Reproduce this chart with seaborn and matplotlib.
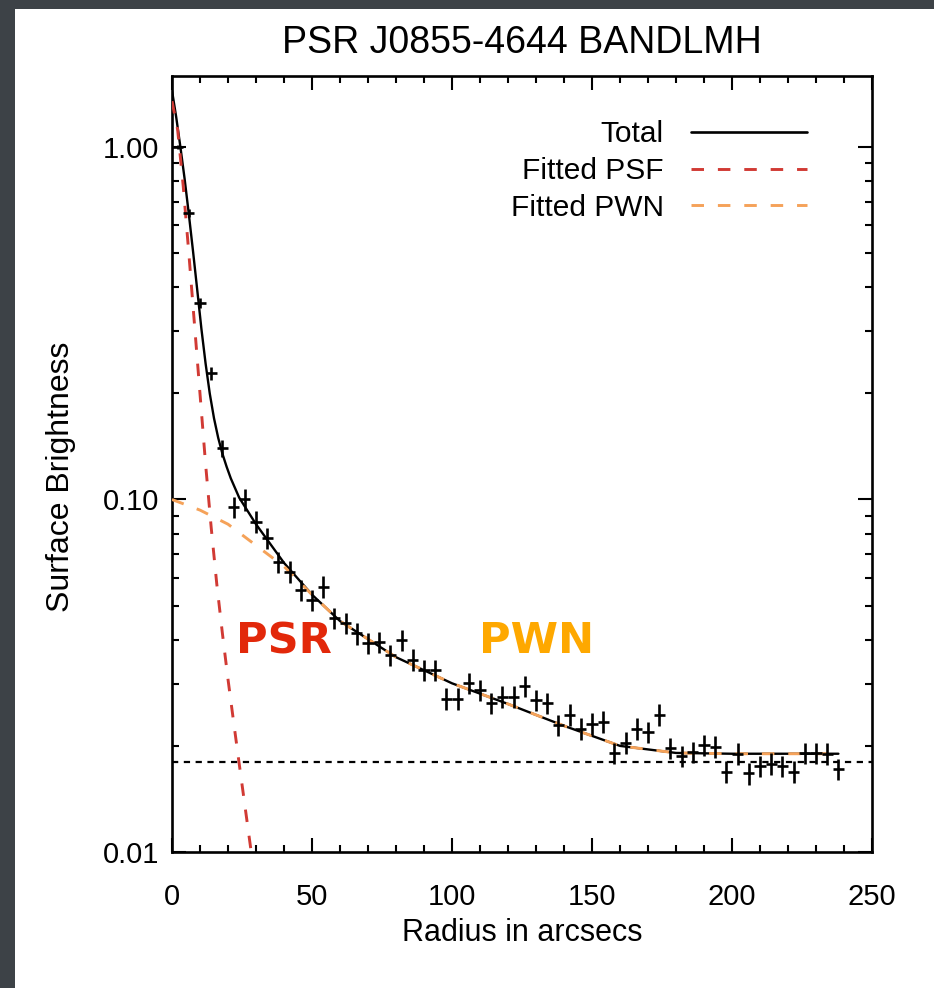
import numpy as np
import pandas as pd
import matplotlib
matplotlib.use("Agg")
import matplotlib.pyplot as plt
from matplotlib.patches import Rectangle
import seaborn as sns

# ---------------- data ----------------
radius = [2, 6, 10, 14, 18, 22, 26, 30, 34, 38, 42, 46, 50, 54, 58, 62, 66, 70,
          74, 78, 82, 86, 90, 94, 98, 102, 106, 110, 114, 118, 122, 126, 130,
          134, 138, 142, 146, 150, 154, 158, 162, 166, 170, 174, 178, 182, 186,
          190, 194, 198, 202, 206, 210, 214, 218, 222, 226, 230, 234, 238]
brightness = [1.00, 0.649, 0.361, 0.228, 0.140, 0.0953, 0.100, 0.0865, 0.0776,
              0.0665, 0.0624, 0.0553, 0.0519, 0.0566, 0.0460, 0.0446, 0.0417,
              0.0391, 0.0394, 0.0362, 0.0399, 0.0351, 0.0328, 0.0328, 0.0272,
              0.0272, 0.0301, 0.0288, 0.0264, 0.0276, 0.0276, 0.0296, 0.0270,
              0.0264, 0.0229, 0.0245, 0.0224, 0.0231, 0.0234, 0.0191, 0.0204,
              0.0224, 0.0219, 0.0245, 0.0197, 0.0187, 0.0192, 0.0201, 0.0199,
              0.0169, 0.0190, 0.0167, 0.0175, 0.0178, 0.0175, 0.0169, 0.0191,
              0.0191, 0.0190, 0.0172]
radius_halfwidth = [2.0] * 60
frac_err = [0.015, 0.025, 0.035, 0.045, 0.055] + [0.07] * 55

total_r = [0, 1.5, 3, 4.5, 6, 7.5, 9, 10.5, 12, 13.5, 15, 16.5, 18, 19.5, 21,
           24, 30, 40, 50, 60, 80, 100, 120, 140, 160, 180, 200, 220, 238]
total_v = [1.445, 1.216, 1.00, 0.813, 0.646, 0.507, 0.394, 0.305, 0.243, 0.1995,
           0.170, 0.1496, 0.1349, 0.1239, 0.1148, 0.1012, 0.0851, 0.0661, 0.0537,
           0.0452, 0.0357, 0.0301, 0.0263, 0.0228, 0.0200, 0.0191, 0.0190,
           0.0190, 0.0190]

psf_r = [0, 2, 4, 6, 8, 10, 12, 14, 16, 18, 20, 22, 24, 26, 28, 29.5]
psf_v = [1.349, 1.122, 0.776, 0.501, 0.316, 0.1995, 0.1259, 0.0832, 0.0575,
         0.0417, 0.0309, 0.0234, 0.0178, 0.0136, 0.0104, 0.0085]

pwn_r = [0, 10, 20, 30, 40, 50, 60, 80, 100, 120, 140, 160, 180, 200, 220, 238]
pwn_v = [0.100, 0.0933, 0.0851, 0.0741, 0.0646, 0.0537, 0.0452, 0.0357, 0.0301,
         0.0263, 0.0228, 0.0200, 0.0191, 0.0190, 0.0190, 0.0190]

background_level = 0.018

legend_labels = ["Total", "Fitted PSF", "Fitted PWN"]
x_ticks = [0, 50, 100, 150, 200, 250]
y_ticks = [0.01, 0.10, 1.00]

# ---------------- figure ----------------
sns.set_style("ticks")
plt.rcParams["font.family"] = ["Liberation Sans", "DejaVu Sans"]
plt.rcParams["lines.scale_dashes"] = False
plt.rcParams["text.color"] = "black"
plt.rcParams["xtick.color"] = "black"
plt.rcParams["ytick.color"] = "black"

W, H = 934, 988
fig = plt.figure(figsize=(W / 100, H / 100), dpi=100)
fig.patch.set_facecolor("#3d4247")
bg = Rectangle((15 / W, 0), 1 - 15 / W, 1 - 9 / H, transform=fig.transFigure,
               facecolor="white", edgecolor="none", zorder=-10)
fig.patches.append(bg)

ax = fig.add_axes([172 / W, (H - 852) / H, 700 / W, 776 / H])
ax.set_zorder(1)
ax.set_facecolor("white")

red = "#d13a34"
orange = "#f5a259"

sns.lineplot(x=total_r, y=total_v, ax=ax, color="black", lw=1.7,
             label=legend_labels[0], zorder=3)
sns.lineplot(x=psf_r, y=psf_v, ax=ax, color=red, lw=2.1,
             label=legend_labels[1], zorder=4)
sns.lineplot(x=pwn_r, y=pwn_v, ax=ax, color=orange, lw=2.1,
             label=legend_labels[2], zorder=5)
lines = ax.get_lines()
lines[1].set_dashes((9, 10))
lines[2].set_dashes((9, 10))

ax.axhline(background_level, color="black", lw=1.6, dashes=(4.5, 4), zorder=2)

b = np.array(brightness)
fe = np.array(frac_err)
yerr = np.vstack([b * fe, b * fe])
ax.errorbar(radius, brightness, xerr=radius_halfwidth, yerr=yerr, fmt="none",
            ecolor="black", elinewidth=1.9, capsize=0, zorder=6)

ax.set_yscale("log")
ax.set_xlim(0, 250)
ax.set_ylim(0.01, 1.59)
ax.set_xticks(x_ticks)
ax.set_xticklabels([str(t) for t in x_ticks])
ax.set_xticks(np.arange(0, 251, 10), minor=True)
ax.set_yticks(y_ticks)
ax.set_yticklabels(["%.2f" % t for t in y_ticks])
ax.yaxis.set_minor_locator(matplotlib.ticker.LogLocator(base=10, subs=np.arange(2, 10)))
ax.yaxis.set_minor_formatter(matplotlib.ticker.NullFormatter())

ax.tick_params(axis="both", which="both", direction="in", top=True, right=True,
               width=1.5, colors="black")
ax.tick_params(axis="both", which="major", length=10, labelsize=21)
ax.tick_params(axis="both", which="minor", length=5)
ax.tick_params(axis="x", which="major", pad=22)
ax.tick_params(axis="y", which="major", pad=9)
for s in ax.spines.values():
    s.set_linewidth(1.9)
    s.set_color("black")
    s.set_visible(True)

ax.set_xlabel("")
ax.set_ylabel("")
fig.text(522 / W, 1 - 933 / H, "Radius in arcsecs", ha="center", va="center",
         fontsize=22, color="black")
fig.text(61 / W, 1 - 477 / H, "Surface Brightness", ha="center", va="center",
         rotation=90, fontsize=23, color="black")
fig.text(522 / W, 1 - 43 / H, "PSR J0855-4644 BANDLMH", ha="center",
         va="center", fontsize=27, color="black")

ax.text((284 - 172) / 700, (852 - 641) / 776, "PSR", transform=ax.transAxes,
        ha="center", va="center", fontsize=31, fontweight="bold",
        color="#e2280a", family="DejaVu Sans", zorder=7)
ax.text((537 - 172) / 700, (852 - 641) / 776, "PWN", transform=ax.transAxes,
        ha="center", va="center", fontsize=31, fontweight="bold",
        color="#fea800", family="DejaVu Sans", zorder=7)

leg = ax.legend(loc="upper right", bbox_to_anchor=((807 - 172) / 700, (852 - 120) / 776),
                frameon=False, markerfirst=False, fontsize=21.5, handlelength=3.9,
                handletextpad=0.9, labelspacing=0.3, borderpad=0, borderaxespad=0)
for t in leg.get_texts():
    t.set_color("black")
for lh in leg.get_lines():
    lh.set_linewidth(2.1)
leg.get_lines()[0].set_linewidth(1.9)

fig.savefig("out.png", dpi=100, facecolor=fig.get_facecolor())
